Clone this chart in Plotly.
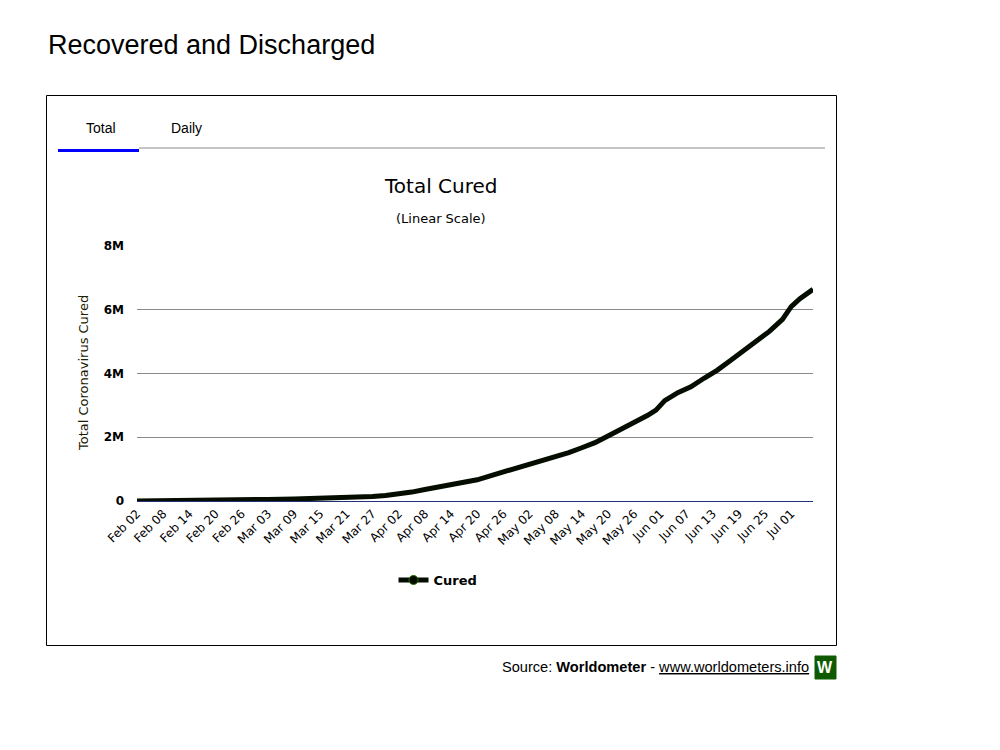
import plotly.graph_objects as go

# ---- data (total recovered, worldwide) ----
dates = [
    "2020-02-02", "2020-02-08", "2020-02-14", "2020-02-20", "2020-02-26",
    "2020-03-03", "2020-03-09", "2020-03-15", "2020-03-21", "2020-03-24",
    "2020-03-27", "2020-03-30", "2020-04-02", "2020-04-05", "2020-04-08",
    "2020-04-11", "2020-04-14", "2020-04-17", "2020-04-20", "2020-04-23",
    "2020-04-26", "2020-04-29", "2020-05-02", "2020-05-05", "2020-05-08",
    "2020-05-11", "2020-05-14", "2020-05-17", "2020-05-20", "2020-05-23",
    "2020-05-26", "2020-05-29", "2020-05-31", "2020-06-02", "2020-06-05",
    "2020-06-08", "2020-06-11", "2020-06-14", "2020-06-17", "2020-06-20",
    "2020-06-23", "2020-06-26", "2020-06-29", "2020-07-01", "2020-07-03",
    "2020-07-04", "2020-07-06",
]
cured = [
    500, 3000, 10000, 20000, 32000,
    50000, 62000, 75000, 95000, 115000,
    140000, 175000, 220000, 280000, 360000,
    440000, 500000, 575000, 665000, 790000,
    910000, 1020000, 1130000, 1250000, 1380000,
    1520000, 1670000, 1830000, 2040000, 2250000,
    2450000, 2680000, 2850000, 3150000, 3400000,
    3580000, 3850000, 4100000, 4400000, 4700000,
    5000000, 5320000, 5700000, 6100000, 6350000,
    6450000, 6640000,
]
series_name = "Cured"

# plot area in page pixels; the page body adds an 8px offset
OFF = 8
L, R, T, B = 137, 813, 246, 501


def px(x):
    return (x - L) / (R - L)


def py(y):
    return (B - y) / (B - T)


font = "DejaVu Sans"
arial = "Liberation Sans, Arial"

fig = go.Figure()
fig.add_trace(go.Scatter(
    x=dates, y=cured, mode="lines", name=series_name, showlegend=False,
    line=dict(color="#050d00", width=5),
))
# legend entry (line + marker symbol)
fig.add_trace(go.Scatter(
    x=[None], y=[None], mode="lines+markers", name=series_name,
    line=dict(color="#050d00", width=5),
    marker=dict(color="#050d00", size=9, line=dict(color="#2a6a00", width=1)),
))

fig.update_layout(
    width=1000, height=750,
    margin=dict(l=L - OFF, r=1000 - R + OFF, t=T - OFF, b=750 - B + OFF,
                autoexpand=False),
    paper_bgcolor="white", plot_bgcolor="white",
    font=dict(family=font, color="#111"),
    showlegend=True,
    legend=dict(x=px(438), y=py(580), xanchor="center", yanchor="middle",
                orientation="h", font=dict(family=font, size=13, weight="bold", color="#000"),
                itemwidth=30),
    xaxis=dict(
        type="date", range=[dates[0], dates[-1]],
        tick0=dates[0], dtick=6 * 86400000, tickformat="%b %d",
        tickangle=-45, tickfont=dict(family=font, size=12, color="#000"),
        showgrid=False, showline=True, linecolor="#22307a", linewidth=1,
        ticks="", zeroline=False,
    ),
    yaxis=dict(
        range=[0, 8000000], dtick=2000000, tickformat="~s",
        tickfont=dict(family=font, size=12, weight="bold", color="#000"),
        showgrid=True, gridcolor="#8a8a8a", gridwidth=1,
        zeroline=False, ticks="", ticklabelstandoff=12,
    ),
)

shapes = [
    # outer box
    dict(type="rect", x0=px(46.5), x1=px(836.5), y0=py(95.5), y1=py(645.5),
         line=dict(color="#000", width=1)),
    # tab separator line
    dict(type="line", x0=px(139), x1=px(825), y0=py(148), y1=py(148),
         line=dict(color="#8a8a8a", width=1)),
    # active tab underline
    dict(type="line", x0=px(58), x1=px(139), y0=py(150.5), y1=py(150.5),
         line=dict(color="#0000ff", width=3)),
    # logo
    dict(type="rect", x0=px(815), x1=px(836), y0=py(656), y1=py(679),
         fillcolor="#0f5a00", line=dict(color="#0f5a00", width=1)),
]
for s in shapes:
    s.update(xref="paper", yref="paper", layer="above")
fig.update_layout(shapes=shapes)

annotations = [
    dict(text="Recovered and Discharged", x=px(46), y=py(45), xanchor="left",
         font=dict(family=arial, size=27, color="#000")),
    dict(text="Total", x=px(101), y=py(128), font=dict(family=arial, size=14, color="#000")),
    dict(text="Daily", x=px(186), y=py(128), font=dict(family=arial, size=14, color="#000")),
    dict(text="Total Cured", x=px(441), y=py(186), font=dict(family=font, size=20, color="#000")),
    dict(text="(Linear Scale)", x=px(441), y=py(219), font=dict(family=font, size=13, color="#000")),
    dict(text="Total Coronavirus Cured", x=px(83), y=py(373), textangle=-90,
         font=dict(family=font, size=13, color="#1a2000")),
    dict(text="Source: <b>Worldometer</b> - <u>www.worldometers.info</u>",
         x=px(811), y=py(667), xanchor="right",
         font=dict(family=arial, size=14.6, color="#000")),
    dict(text="<b>W</b>", x=px(825.5), y=py(667.5),
         font=dict(family=arial, size=16, color="white")),
]
for a in annotations:
    a.update(xref="paper", yref="paper", showarrow=False, yanchor="middle")
    a.setdefault("xanchor", "center")
fig.update_layout(annotations=annotations)

fig.write_html("out.html")
